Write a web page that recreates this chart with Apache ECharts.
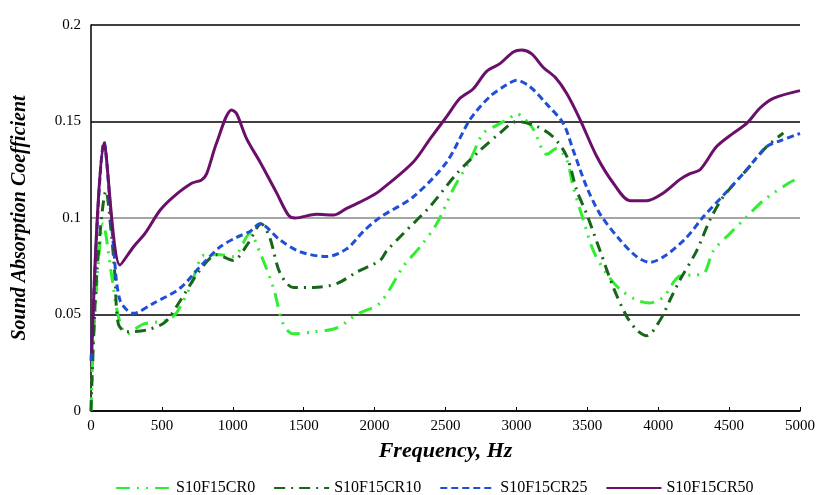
<!DOCTYPE html>
<html><head><meta charset="utf-8">
<script src="https://cdn.jsdelivr.net/npm/echarts@6/dist/echarts.min.js"></script>
<style>html,body{margin:0;padding:0;background:#fff}#c{width:824px;height:495px}</style>
</head><body><div id="c"></div>
<script>
const xTicks = [0,500,1000,1500,2000,2500,3000,3500,4000,4500,5000];
const yTicks = [0,0.05,0.1,0.15,0.2];
const names = ['S10F15CR0','S10F15CR10','S10F15CR25','S10F15CR50'];

const cr0 = [[0,0],[16,0.035],[52,0.077],[85,0.097],[146,0.070],[193,0.049],[252,0.040],[369,0.045],[534,0.047],[604,0.051],[698,0.064],[804,0.081],[910,0.081],[1004,0.080],[1121,0.092],[1192,0.082],[1286,0.064],[1356,0.045],[1427,0.040],[1568,0.041],[1733,0.043],[1874,0.050],[2038,0.056],[2203,0.075],[2320,0.085],[2438,0.097],[2555,0.115],[2673,0.130],[2767,0.144],[2861,0.148],[2955,0.152],[3002,0.154],[3049,0.152],[3120,0.146],[3214,0.133],[3284,0.136],[3355,0.130],[3401,0.116],[3472,0.099],[3543,0.083],[3637,0.071],[3731,0.063],[3848,0.0575],[3942,0.056],[4036,0.059],[4154,0.070],[4248,0.0705],[4318,0.071],[4389,0.083],[4506,0.092],[4624,0.1006],[4741,0.109],[4918,0.118],[5000,0.121]];

const cr10 = [[0,0],[40,0.070],[106,0.114],[146,0.090],[169,0.070],[193,0.045],[252,0.041],[393,0.042],[522,0.046],[628,0.057],[769,0.073],[886,0.081],[1004,0.078],[1109,0.087],[1200,0.097],[1260,0.090],[1333,0.0715],[1427,0.064],[1568,0.064],[1733,0.066],[1874,0.072],[2038,0.078],[2085,0.083],[2203,0.092],[2391,0.106],[2579,0.123],[2743,0.135],[2884,0.144],[3002,0.150],[3143,0.1475],[3260,0.142],[3355,0.132],[3425,0.1145],[3496,0.102],[3590,0.083],[3684,0.064],[3778,0.049],[3848,0.042],[3919,0.039],[4013,0.047],[4083,0.0575],[4154,0.068],[4271,0.083],[4365,0.099],[4459,0.111],[4624,0.125],[4765,0.137],[4883,0.144]];

const cr25 = [[0,0.026],[92,0.1395],[157,0.087],[204,0.0575],[299,0.0506],[440,0.0558],[628,0.0636],[769,0.0748],[910,0.085],[1027,0.090],[1121,0.093],[1192,0.097],[1333,0.0886],[1474,0.0825],[1662,0.080],[1803,0.084],[1920,0.093],[2038,0.1003],[2273,0.111],[2508,0.129],[2673,0.151],[2814,0.163],[2931,0.169],[3002,0.1714],[3096,0.168],[3214,0.159],[3331,0.149],[3401,0.135],[3496,0.116],[3590,0.102],[3731,0.0886],[3848,0.080],[3942,0.077],[4060,0.081],[4201,0.090],[4318,0.1006],[4483,0.1136],[4624,0.125],[4765,0.137],[4859,0.140],[5000,0.1438]];

const cr50 = [[5,0.030],[92,0.139],[204,0.0756],[299,0.085],[381,0.092],[487,0.104],[581,0.111],[710,0.118],[780,0.1197],[816,0.123],[886,0.139],[992,0.156],[1027,0.154],[1098,0.141],[1192,0.129],[1309,0.113],[1392,0.1015],[1439,0.100],[1591,0.102],[1709,0.1015],[1803,0.105],[1944,0.110],[2038,0.1142],[2273,0.129],[2391,0.141],[2508,0.1525],[2602,0.162],[2696,0.167],[2790,0.176],[2884,0.180],[2978,0.186],[3037,0.187],[3108,0.185],[3190,0.178],[3272,0.173],[3355,0.1645],[3449,0.151],[3566,0.132],[3684,0.118],[3801,0.109],[3919,0.109],[4036,0.113],[4154,0.120],[4224,0.123],[4295,0.125],[4412,0.137],[4530,0.144],[4624,0.149],[4718,0.157],[4812,0.162],[5000,0.166]];

const colors = ['#30ee30','#17661a','#1f4fd6','#6a0f6a'];
const dashes = [[14,7,2,7,2,7],[11,6,2,6],[7,4],'solid'];
const datasets = [cr0,cr10,cr25,cr50];

const chart = echarts.init(document.getElementById('c'), null, {renderer:'canvas'});
const font = 'Liberation Serif';
chart.setOption({
  animation:false,
  grid:{left:91,right:24,top:25,bottom:84,containLabel:false},
  xAxis:{type:'value',min:0,max:5000,interval:500,
    name:'Frequency, Hz',nameLocation:'middle',nameGap:29,
    nameTextStyle:{fontFamily:font,fontSize:22,fontWeight:'bold',fontStyle:'italic',color:'#000'},
    axisLine:{show:true,lineStyle:{color:'#000',width:1.5}},
    axisTick:{show:true,inside:true,length:4,lineStyle:{color:'#000'}},
    axisLabel:{fontFamily:font,fontSize:15,color:'#000',margin:8,
      formatter:v=>xTicks.includes(v)?String(v):''},
    splitLine:{show:false}},
  yAxis:{type:'value',min:0,max:0.2,interval:0.05,
    name:'Sound Absorption Coefficient',nameLocation:'middle',nameGap:61,nameRotate:90,
    nameTextStyle:{fontFamily:font,fontSize:20,fontWeight:'bold',fontStyle:'italic',color:'#000'},
    axisLine:{show:true,lineStyle:{color:'#000',width:1.5}},
    axisTick:{show:false},
    axisLabel:{fontFamily:font,fontSize:15,color:'#000',margin:10,
      formatter:v=>{const t=yTicks.find(y=>Math.abs(y-v)<1e-9);return t===undefined?'':String(t);}},
    splitLine:{show:true,lineStyle:{color:['#000','#000','#888','#000','#000'],width:1.5}}},
  legend:{top:475,left:110,itemWidth:55,itemHeight:16,itemGap:18,
    itemStyle:{opacity:0},
    textStyle:{fontFamily:font,fontSize:16,color:'#000',padding:[0,0,0,0]},
    data:names},
  series:datasets.map((d,i)=>({
    name:names[i],type:'line',data:d,smooth:0.3,showSymbol:false,symbol:'none',
    lineStyle:{color:colors[i],width:3,type:dashes[i]},
    itemStyle:{color:colors[i]}
  }))
});
</script></body></html>
